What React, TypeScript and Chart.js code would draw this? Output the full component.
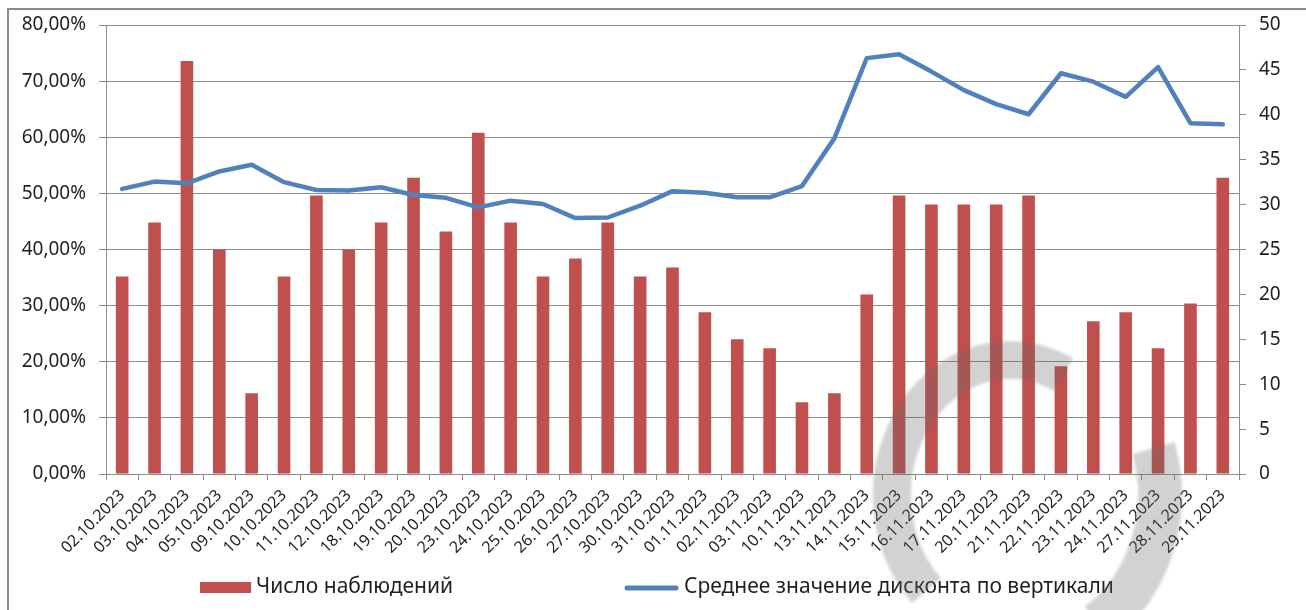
import { useEffect, useRef } from "react";
import { Chart, registerables } from "chart.js";

Chart.register(...registerables);

const categories = [
  "02.10.2023", "03.10.2023", "04.10.2023", "05.10.2023", "09.10.2023", "10.10.2023",
  "11.10.2023", "12.10.2023", "18.10.2023", "19.10.2023", "20.10.2023", "23.10.2023",
  "24.10.2023", "25.10.2023", "26.10.2023", "27.10.2023", "30.10.2023", "31.10.2023",
  "01.11.2023", "02.11.2023", "03.11.2023", "10.11.2023", "13.11.2023", "14.11.2023",
  "15.11.2023", "16.11.2023", "17.11.2023", "20.11.2023", "21.11.2023", "22.11.2023",
  "23.11.2023", "24.11.2023", "27.11.2023", "28.11.2023", "29.11.2023",
];

const counts = [
  22, 28, 46, 25, 9, 22, 31, 25, 28, 33, 27, 38, 28, 22, 24, 28, 22, 23,
  18, 15, 14, 8, 9, 20, 31, 30, 30, 30, 31, 12, 17, 18, 14, 19, 33,
];

const discount = [
  50.8, 52.1, 51.8, 53.9, 55.1, 52.0, 50.6, 50.5, 51.1, 49.7, 49.2, 47.5,
  48.7, 48.1, 45.6, 45.7, 47.8, 50.4, 50.1, 49.3, 49.3, 51.3, 59.8, 74.1,
  74.8, 71.7, 68.4, 65.9, 64.1, 71.4, 69.9, 67.2, 72.5, 62.5, 62.3,
];

const seriesLabels = ["Число наблюдений", "Среднее значение дисконта по вертикали"];
const leftAxis = { min: 0, max: 80, step: 10 };
const rightAxis = { min: 0, max: 50, step: 5 };

const BAR_COLOR = "#C0504D";
const LINE_COLOR = "#4F81BD";
const GRID = "#8c8c8c";
const TEXT = "#1f1f1f";
const FONT = '"Noto Sans", "Open Sans", sans-serif';

const decorPlugin = {
  id: "decor",
  beforeDraw(chart: any) {
    const ctx = chart.ctx;
    ctx.save();
    ctx.fillStyle = "#ffffff";
    ctx.fillRect(0, 0, chart.width, chart.height);
    ctx.restore();
  },
  afterDraw(chart: any) {
    const ctx = chart.ctx;
    const ds = chart.data.datasets;
    // legend
    ctx.save();
    ctx.font = `21px ${FONT}`;
    ctx.textBaseline = "middle";
    ctx.textAlign = "left";
    ctx.fillStyle = ds[1].backgroundColor;
    ctx.fillRect(200, 582, 51, 11);
    ctx.fillStyle = TEXT;
    ctx.fillText(ds[1].label, 256, 587);
    ctx.strokeStyle = ds[0].borderColor;
    ctx.lineWidth = 5;
    ctx.lineCap = "round";
    ctx.beginPath();
    ctx.moveTo(627, 588);
    ctx.lineTo(676, 588);
    ctx.stroke();
    ctx.fillStyle = TEXT;
    ctx.fillText(ds[0].label, 684, 587);
    ctx.restore();

    // watermark
    ctx.save();
    ctx.filter = "blur(1.5px)";
    ctx.strokeStyle = "rgba(105,105,105,0.3)";
    ctx.lineCap = "butt";
    ctx.lineWidth = 38;
    ctx.beginPath();
    ctx.ellipse(1010, 495, 118, 135, 0, -Math.PI * 0.35, Math.PI * 0.75, true);
    ctx.stroke();
    ctx.lineWidth = 44;
    ctx.beginPath();
    ctx.ellipse(1010, 495, 150, 160, 0, -Math.PI * 0.095, Math.PI * 0.3, false);
    ctx.stroke();
    ctx.restore();

    // outer frame
    ctx.save();
    ctx.strokeStyle = "#8a8a8a";
    ctx.lineWidth = 2;
    ctx.strokeRect(8, 9, 1400, 800);
    ctx.restore();
  },
};

export default function App() {
  const ref = useRef<HTMLCanvasElement | null>(null);

  useEffect(() => {
    if (!ref.current) return;
    const chart = new Chart(ref.current, {
      type: "bar",
      data: {
        labels: categories,
        datasets: [
          {
            type: "line",
            label: seriesLabels[1],
            data: discount,
            yAxisID: "y",
            borderColor: LINE_COLOR,
            backgroundColor: LINE_COLOR,
            borderWidth: 4.5,
            pointRadius: 0,
            tension: 0,
            borderJoinStyle: "round",
            borderCapStyle: "round",
            order: 0,
          } as any,
          {
            type: "bar",
            label: seriesLabels[0],
            data: counts,
            yAxisID: "y1",
            backgroundColor: BAR_COLOR,
            borderWidth: 0,
            categoryPercentage: 1,
            barPercentage: 0.39,
            order: 1,
          },
        ],
      },
      options: {
        responsive: false,
        animation: false,
        layout: { padding: { top: 25, left: 0, right: 0, bottom: 0 } },
        plugins: { legend: { display: false }, tooltip: { enabled: false } },
        scales: {
          x: {
            offset: true,
            grid: { offset: true, drawOnChartArea: false, drawTicks: true, tickLength: 6, color: GRID },
            border: { color: GRID, width: 1 },
            ticks: {
              autoSkip: false,
              minRotation: 45,
              maxRotation: 45,
              padding: 6,
              color: TEXT,
              font: { family: FONT, size: 16 },
            },
            afterFit: (s: any) => { s.height = 136; },
          },
          y: {
            position: "left",
            min: leftAxis.min,
            max: leftAxis.max,
            ticks: {
              stepSize: leftAxis.step,
              padding: 13,
              color: TEXT,
              font: { family: FONT, size: 19 },
              callback: (v: any) => Number(v).toFixed(2).replace(".", ",") + "%",
            },
            grid: { color: GRID, tickLength: 7 },
            border: { color: GRID, width: 1 },
            afterFit: (s: any) => { s.width = 106; },
          },
          y1: {
            position: "right",
            min: rightAxis.min,
            max: rightAxis.max,
            ticks: {
              stepSize: rightAxis.step,
              padding: 13,
              color: TEXT,
              font: { family: FONT, size: 19 },
            },
            grid: { drawOnChartArea: false, color: GRID, tickLength: 7 },
            border: { color: GRID, width: 1 },
            afterFit: (s: any) => { s.width = 67; },
          },
        },
      },
      plugins: [decorPlugin],
    });
    return () => chart.destroy();
  }, []);

  return (
    <div style={{ position: "absolute", left: 0, top: 0, width: 1306, height: 610 }}>
      <canvas ref={ref} width={1306} height={610} style={{ display: "block" }} />
    </div>
  );
}
